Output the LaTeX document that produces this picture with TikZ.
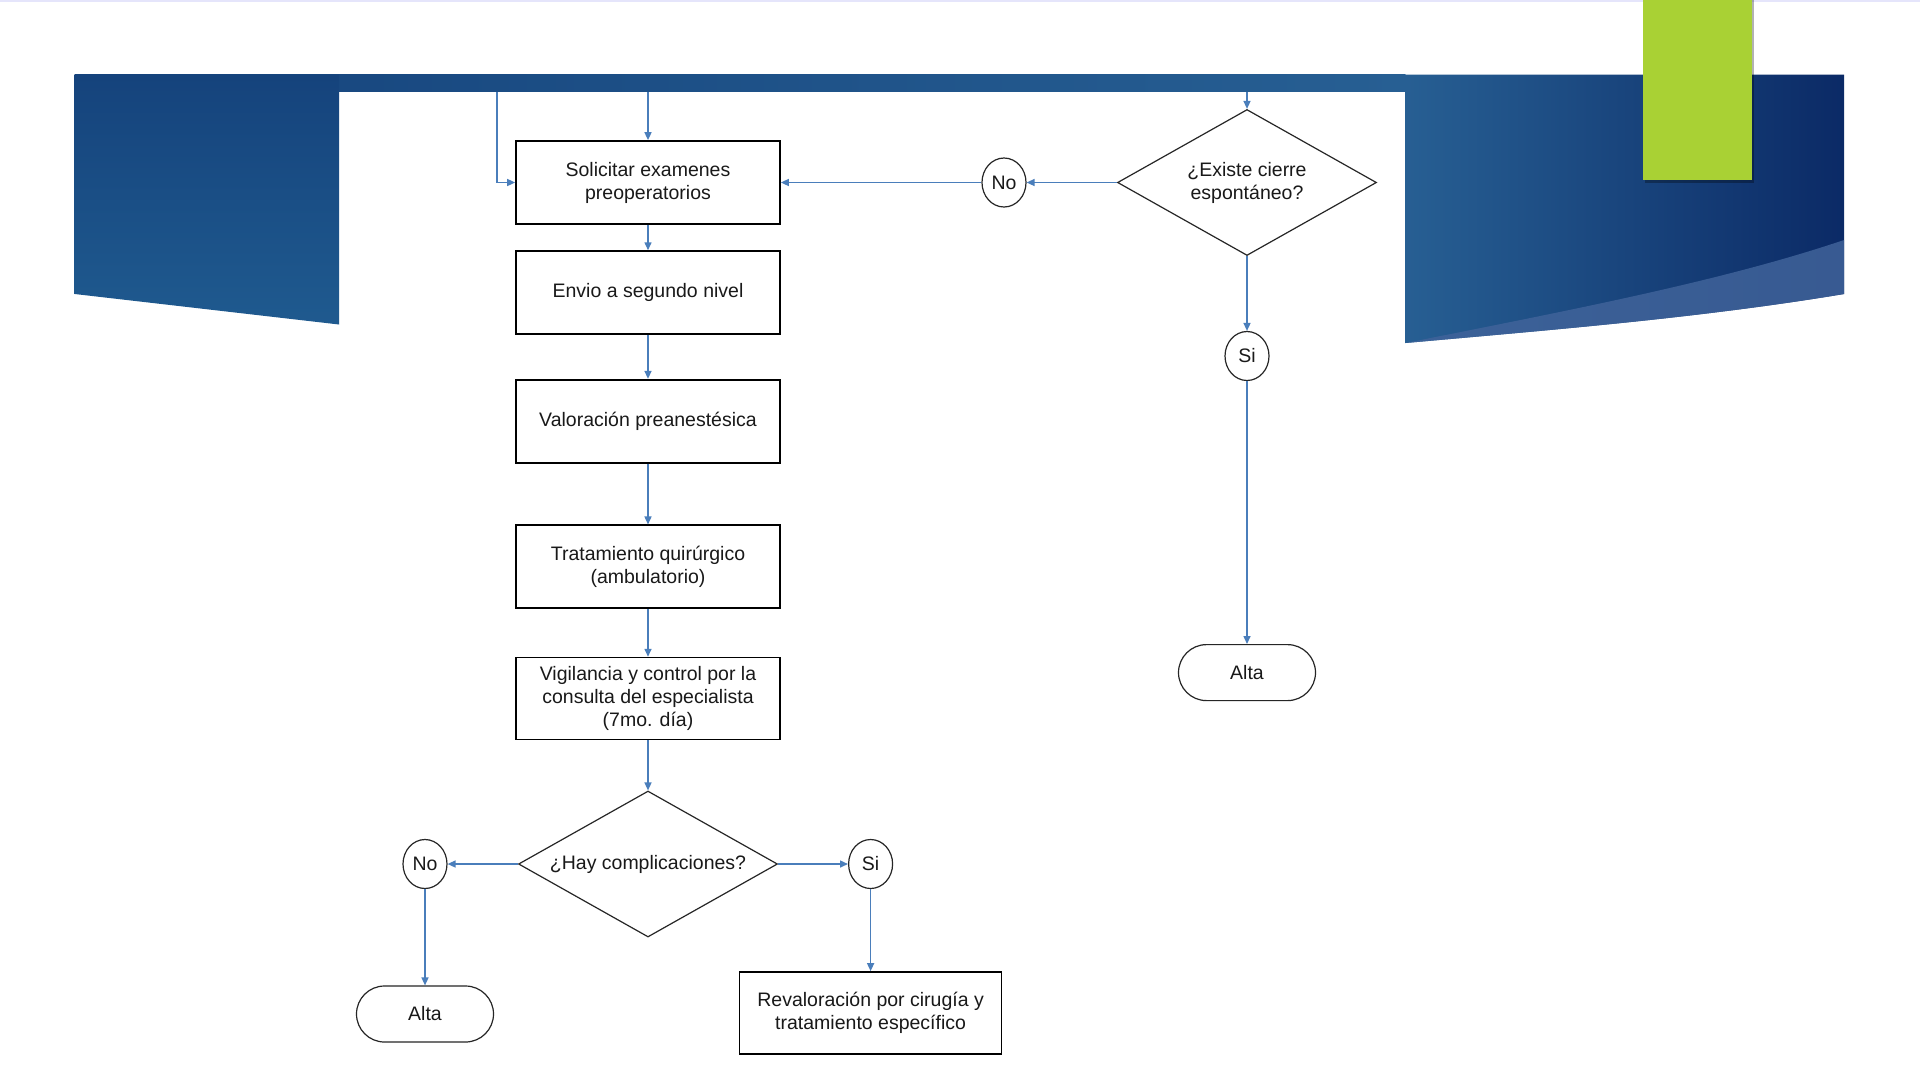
\documentclass[tikz,border=0pt]{standalone}
\usepackage{fontspec}
\setmainfont{Liberation Sans}
\usetikzlibrary{shapes.geometric,arrows.meta}
\definecolor{flowblue}{HTML}{4A7EBB}
\definecolor{bannerdark}{HTML}{0B2A66}
\definecolor{bannertop}{HTML}{15437C}
\definecolor{bannermid}{HTML}{1F5A8F}
\definecolor{bannerlight}{HTML}{275F93}
\definecolor{bannerdeep}{HTML}{123F7A}
\definecolor{swoosh}{HTML}{40639A}
\definecolor{tabgreen}{HTML}{A9D134}

\begin{document}
\begin{tikzpicture}[x=1pt,y=-1pt,
    every node/.style={font=\fontsize{19.5}{23}\selectfont, align=center, text=black!90},
    procbox/.style={draw=black, line width=1.7pt, fill=white, minimum width=264pt, minimum height=83pt, inner sep=0pt},
    decision/.style={diamond, draw=black!85, line width=1.2pt, fill=white, aspect=1.78, minimum width=259pt, minimum height=146pt, inner sep=0pt},
    answer/.style={ellipse, draw=black!85, line width=1.2pt, fill=white, minimum width=44pt, minimum height=49pt, inner sep=0pt},
    terminal/.style={draw=black!85, line width=1.2pt, fill=white, rounded corners=28pt, minimum width=137pt, minimum height=56pt, inner sep=0pt},
    flow/.style={draw=flowblue, line width=1.5pt, -{Triangle[length=8pt,width=7pt]}}
]
    % page and background
    \useasboundingbox (0,0) rectangle (1920,1080);
    \fill [white] (0,0) rectangle (1920,1080);
    \draw [black!15!blue!10!white, line width=2pt] (0,1) -- (1920,1);
    % banner
    \shade [left color=bannertop, right color=bannerlight] (74.7,74.7) rectangle (1405.7,91.8);
    \shade [top color=bannertop, bottom color=bannermid] (74.7,74.7) -- (339,74.7) -- (339,324.5) -- (74.7,294) -- cycle;
    \shade [left color=bannerlight, middle color=bannerdeep, right color=bannerdark] (1405.7,74.7) -- (1844,74.7) -- (1844,294)
        .. controls (1700,318) and (1550,330) .. (1405.7,343) -- cycle;
    \fill [swoosh, opacity=0.85] (1405.7,343) .. controls (1560,312) and (1720,282) .. (1844,240) -- (1844,294)
        .. controls (1700,318) and (1550,330) .. (1405.7,343) -- cycle;
    % green tab
    \fill [black, opacity=0.3] (1645,0) rectangle (1754,183);
    \fill [tabgreen] (1643,0) rectangle (1752,180);

    % left column
    \node [procbox] (solicitar) at (648,182.5) {Solicitar examenes\\preoperatorios};
    \node [procbox] (envio) at (648,292.6) {Envio a segundo nivel};
    \node [procbox] (valoracion) at (648,421.2) {Valoración preanestésica};
    \node [procbox] (tratamiento) at (648,566.8) {Tratamiento quirúrgico\\(ambulatorio)};
    \node [procbox, minimum height=82pt] (vigilancia) at (648,698.6) {Vigilancia y control por la\\consulta del especialista\\(7mo. día)};
    \node [decision] (complica) at (648,864) {¿Hay complicaciones?};
    \node [answer] (nocompl) at (425,864) {No};
    \node [answer] (sicompl) at (870.6,864) {Si};
    \node [terminal] (altaizq) at (425,1014) {Alta};
    \node [procbox, minimum width=262pt, minimum height=82pt] (revalora) at (870.6,1013) {Revaloración por cirugía y\\tratamiento específico};

    % right column
    \node [decision] (cierre) at (1247,182.5) {¿Existe cierre\\espontáneo?};
    \node [answer] (nocierre) at (1004,182.5) {No};
    \node [answer] (sicierre) at (1247,356) {Si};
    \node [terminal] (altader) at (1247,672.6) {Alta};

    % incoming from the top strip
    \coordinate (entrada) at (648,91.8);
    \coordinate (retorno) at (497,91.8);
    \coordinate (entradader) at (1247,91.8);

    \draw [flow] (entrada) -- (solicitar.north);
    \draw [flow] (retorno) |- (solicitar.west);
    \draw [flow] (entradader) -- (cierre.north);
    \draw [flow] (solicitar) -- (envio);
    \draw [flow] (envio) -- (valoracion);
    \draw [flow] (valoracion) -- (tratamiento);
    \draw [flow] (tratamiento) -- (vigilancia);
    \draw [flow] (vigilancia) -- (complica);
    \draw [flow] (complica.west) -- (nocompl);
    \draw [flow] (complica.east) -- (sicompl);
    \draw [flow] (nocompl) -- (altaizq);
    \draw [flow] (sicompl) -- (revalora);
    \draw [flow] (cierre.west) -- (nocierre);
    \draw [flow] (nocierre) -- (solicitar.east);
    \draw [flow] (cierre.south) -- (sicierre);
    \draw [flow] (sicierre) -- (altader);
\end{tikzpicture}
\end{document}
